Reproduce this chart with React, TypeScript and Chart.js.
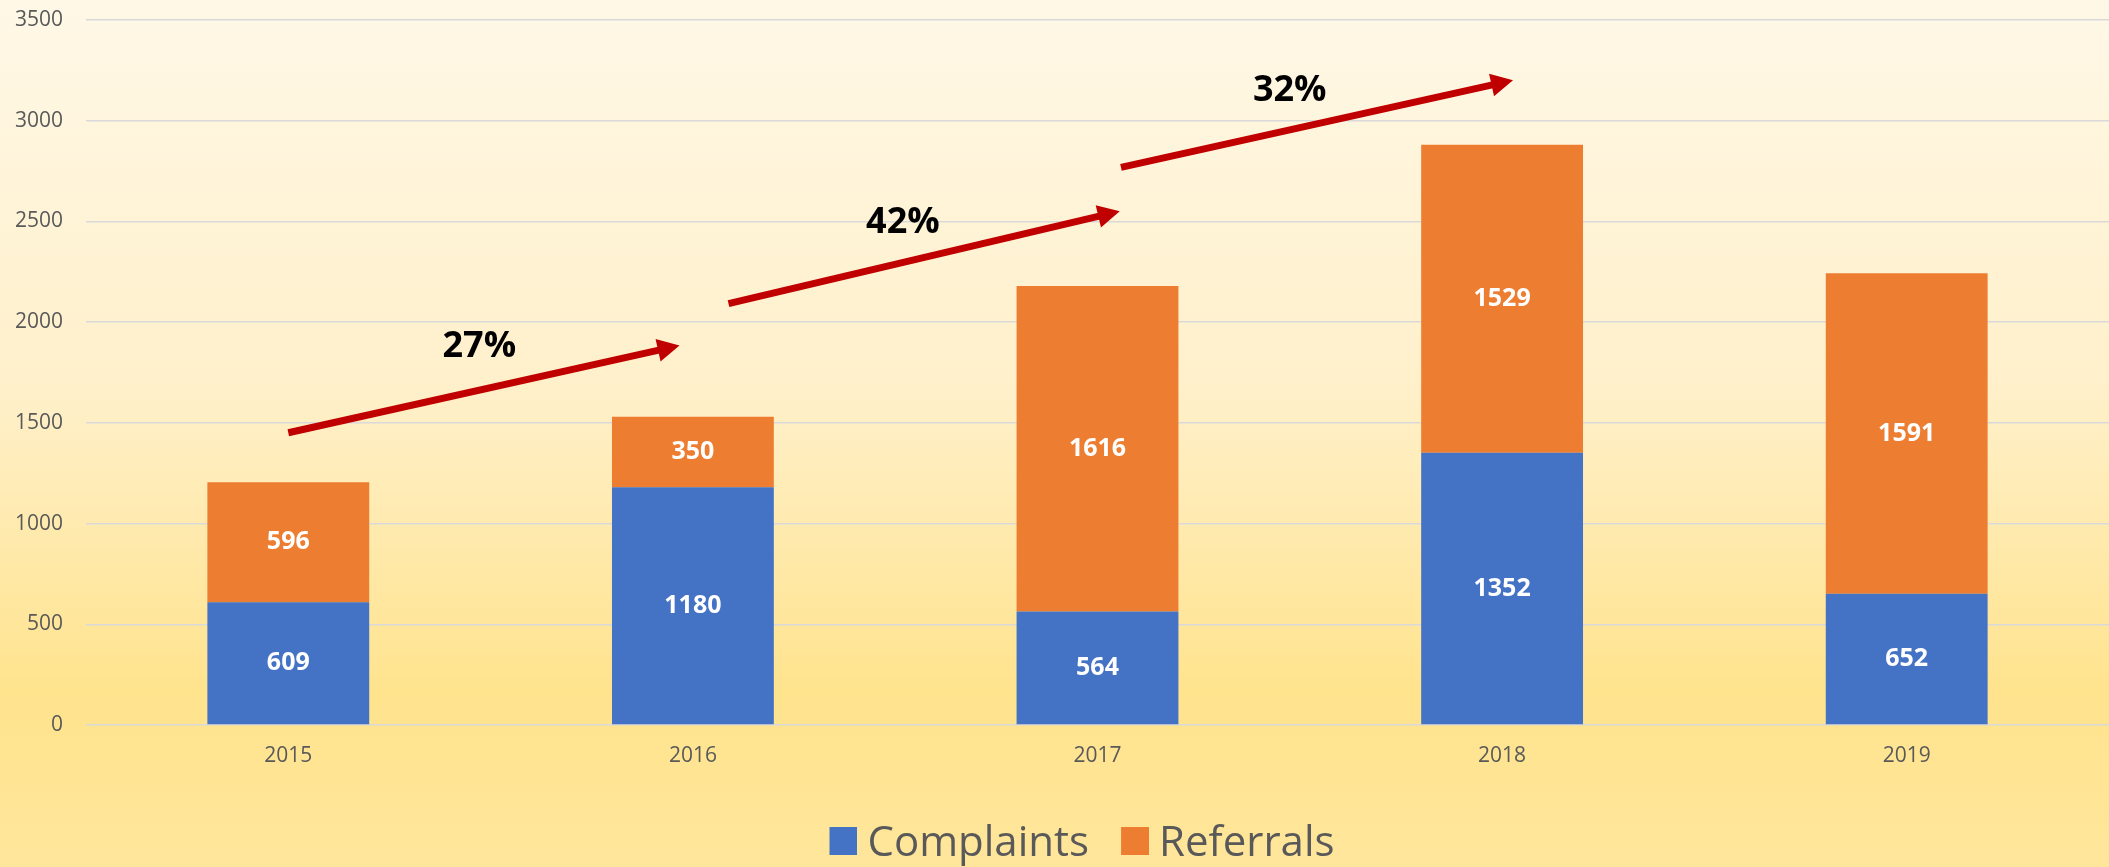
import React, { useEffect, useRef } from "react";
import { Chart, registerables } from "chart.js";

Chart.register(...registerables);

const years = ["2015", "2016", "2017", "2018", "2019"];
const complaints = [609, 1180, 564, 1352, 652];
const referrals = [596, 350, 1616, 1529, 1591];
const yTickMax = 3500;
const yTickStep = 500;

// growth annotations (positions in data units: category index, value)
const growthLabels = ["27%", "42%", "32%"];
const growthLabelX = [0.472, 1.519, 2.475];
const growthLabelY = [1879, 2495, 3150];
const arrowFromX = [0, 1.088, 2.058];
const arrowFromY = [1451, 2092, 2768];
const arrowToX = [0.967, 2.055, 3.027];
const arrowToY = [1884, 2550, 3201];

const COLORS = ["#4472C4", "#ED7D31"];
const FONT = "'Open Sans', 'Noto Sans', sans-serif";
const W = 2109;
const H = 867;

// legend marker: a 28px square drawn on the right part of a wider image,
// so the gap between marker and text is tighter than Chart.js' default
function makeMarker(color: string): HTMLCanvasElement {
  const c = document.createElement("canvas");
  c.width = 50;
  c.height = 34;
  const ctx = c.getContext("2d")!;
  ctx.fillStyle = color;
  ctx.fillRect(22, 0, 28, 28);
  return c;
}

const backgroundPlugin = {
  id: "bgGradient",
  beforeDraw(chart: any) {
    const ctx = chart.ctx;
    const g = ctx.createLinearGradient(0, 0, 0, chart.height);
    g.addColorStop(0, "#FFF8E7");
    g.addColorStop(0.45, "#FFF0CA");
    g.addColorStop(0.8, "#FFE38D");
    g.addColorStop(1, "#FFE69B");
    ctx.save();
    ctx.fillStyle = g;
    ctx.fillRect(0, 0, chart.width, chart.height);
    ctx.restore();
  },
};

const legendShiftPlugin = {
  id: "legendShift",
  afterLayout(chart: any) {
    const lg = chart.legend;
    if (lg) {
      lg.top += 8;
      lg.bottom += 8;
      lg.left += 22;
      lg.right += 22;
    }
  },
};

const valueLabelPlugin = {
  id: "valueLabels",
  afterDatasetsDraw(chart: any) {
    const ctx = chart.ctx;
    ctx.save();
    ctx.fillStyle = "#FFFFFF";
    ctx.font = `bold 25px ${FONT}`;
    ctx.textAlign = "center";
    ctx.textBaseline = "middle";
    chart.data.datasets.forEach((ds: any, i: number) => {
      const meta = chart.getDatasetMeta(i);
      meta.data.forEach((bar: any, j: number) => {
        const y = (bar.y + bar.base) / 2;
        ctx.fillText(String(ds.data[j]), bar.x, y);
      });
    });
    ctx.restore();
  },
};

const arrowPlugin = {
  id: "growthArrows",
  afterDatasetsDraw(chart: any) {
    const ctx = chart.ctx;
    const xs = chart.scales.x;
    const ys = chart.scales.y;
    ctx.save();
    for (let i = 0; i < arrowFromX.length; i++) {
      const x1 = xs.getPixelForValue(arrowFromX[i]);
      const y1 = ys.getPixelForValue(arrowFromY[i]);
      const x2 = xs.getPixelForValue(arrowToX[i]);
      const y2 = ys.getPixelForValue(arrowToY[i]);
      const ang = Math.atan2(y2 - y1, x2 - x1);
      const headLen = 22;
      const headHalf = 11.5;
      const bx = x2 - headLen * Math.cos(ang);
      const by = y2 - headLen * Math.sin(ang);
      ctx.strokeStyle = "#C00000";
      ctx.lineWidth = 7;
      ctx.lineCap = "butt";
      ctx.beginPath();
      ctx.moveTo(x1, y1);
      ctx.lineTo(bx + 2 * Math.cos(ang), by + 2 * Math.sin(ang));
      ctx.stroke();
      ctx.fillStyle = "#C00000";
      ctx.beginPath();
      ctx.moveTo(x2, y2);
      ctx.lineTo(bx - headHalf * Math.sin(ang), by + headHalf * Math.cos(ang));
      ctx.lineTo(bx + headHalf * Math.sin(ang), by - headHalf * Math.cos(ang));
      ctx.closePath();
      ctx.fill();
    }
    ctx.fillStyle = "#000000";
    ctx.font = `bold 36px ${FONT}`;
    ctx.textAlign = "center";
    ctx.textBaseline = "middle";
    for (let i = 0; i < growthLabels.length; i++) {
      ctx.fillText(
        growthLabels[i],
        xs.getPixelForValue(growthLabelX[i]),
        ys.getPixelForValue(growthLabelY[i])
      );
    }
    ctx.restore();
  },
};

export default function App() {
  const canvasRef = useRef<HTMLCanvasElement | null>(null);

  useEffect(() => {
    document.body.style.margin = "0";
    const canvas = canvasRef.current;
    if (!canvas) return;
    const markers = COLORS.map(makeMarker);
    const chart = new Chart(canvas, {
      type: "bar",
      data: {
        labels: years,
        datasets: [
          {
            label: "Complaints",
            data: complaints,
            backgroundColor: COLORS[0],
            borderWidth: 0,
            barPercentage: 0.4,
            categoryPercentage: 1,
          },
          {
            label: "Referrals",
            data: referrals,
            backgroundColor: COLORS[1],
            borderWidth: 0,
            barPercentage: 0.4,
            categoryPercentage: 1,
          },
        ],
      },
      options: {
        responsive: false,
        animation: false,
        devicePixelRatio: 1,
        layout: { padding: { top: 20, left: 0, right: 0, bottom: 0 } },
        scales: {
          x: {
            stacked: true,
            offset: true,
            grid: { display: false },
            border: { display: false },
            ticks: {
              color: "#595959",
              font: { family: FONT, size: 21 },
              padding: 10,
            },
            afterFit(scale: any) {
              scale.height = 69;
              scale.paddingLeft = 0;
              scale.paddingRight = 0;
            },
          },
          y: {
            stacked: true,
            min: 0,
            max: yTickMax,
            grid: { color: "#D9D9D9", lineWidth: 1.5, drawTicks: false },
            border: { display: false },
            ticks: {
              stepSize: yTickStep,
              color: "#595959",
              font: { family: FONT, size: 21 },
              padding: 23,
              callback: (v: any) => String(v),
            },
            afterFit(scale: any) {
              scale.width = 86;
              scale.paddingTop = 0;
              scale.paddingBottom = 0;
            },
          },
        },
        plugins: {
          legend: {
            position: "bottom",
            labels: {
              color: "#595959",
              font: { family: FONT, size: 42 },
              boxWidth: 28,
              boxHeight: 28,
              usePointStyle: true,
              pointStyleWidth: 28,
              padding: 21,
              generateLabels: (chart: any) =>
                chart.data.datasets.map((ds: any, i: number) => ({
                  text: ds.label,
                  fillStyle: COLORS[i],
                  strokeStyle: COLORS[i],
                  lineWidth: 0,
                  pointStyle: markers[i],
                  fontColor: "#595959",
                  hidden: false,
                  datasetIndex: i,
                })),
            },
          },
          tooltip: { enabled: false },
        },
      },
      plugins: [backgroundPlugin, legendShiftPlugin, valueLabelPlugin, arrowPlugin],
    });
    return () => chart.destroy();
  }, []);

  return (
    <div style={{ width: W, height: H }}>
      <canvas ref={canvasRef} width={W} height={H} style={{ display: "block", width: W, height: H }} />
    </div>
  );
}
